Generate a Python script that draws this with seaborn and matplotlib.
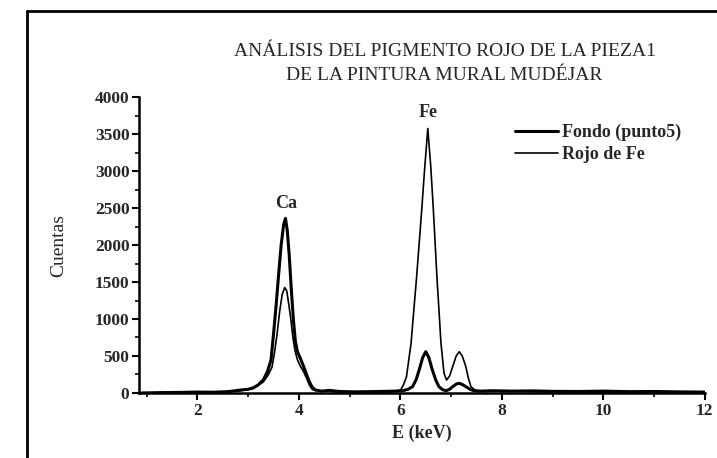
import numpy as np
import pandas as pd
import matplotlib.pyplot as plt
import seaborn as sns
from matplotlib.lines import Line2D
from matplotlib.ticker import MultipleLocator

# Spectrum (energy in keV, counts)
fondo_e = [0.9, 1.3, 1.7, 2.0, 2.3, 2.6, 2.85, 3.0, 3.10, 3.20, 3.30, 3.38, 3.45,
           3.50, 3.55, 3.60, 3.65, 3.70, 3.735, 3.77, 3.81, 3.85, 3.89, 3.93, 3.97,
           4.02, 4.08, 4.14, 4.20, 4.26, 4.32, 4.45, 4.6, 4.8, 5.1, 5.4, 5.7, 5.9,
           6.05, 6.15, 6.24, 6.31, 6.37, 6.44, 6.50, 6.56, 6.63, 6.70, 6.76, 6.83,
           6.90, 6.97, 7.03, 7.10, 7.16, 7.22, 7.29, 7.37, 7.45, 7.6, 7.8, 8.2,
           8.6, 9.0, 9.5, 10.0, 10.5, 11.0, 11.5, 12.0]
fondo_c = [0, 5, 8, 12, 10, 18, 40, 50, 70, 110, 180, 290, 446,
           800, 1180, 1600, 2000, 2280, 2360, 2200, 1850, 1400, 1000, 700, 560,
           480, 380, 270, 160, 80, 40, 25, 35, 20, 15, 18, 22, 25,
           30, 50, 85, 180, 311, 480, 558, 480, 311, 170, 85, 45,
           30, 50, 85, 120, 131, 115, 85, 50, 30, 25, 30, 25,
           28, 22, 20, 25, 18, 20, 15, 12]

rojo_e = [0.9, 1.5, 2.0, 2.5, 2.85, 3.10, 3.30, 3.40, 3.47, 3.52, 3.57, 3.62, 3.67,
          3.72, 3.76, 3.80, 3.84, 3.88, 3.92, 3.97, 4.03, 4.09, 4.15, 4.21, 4.27,
          4.4, 4.7, 5.0, 5.5, 5.8, 5.95, 6.01, 6.06, 6.12, 6.21, 6.32, 6.42,
          6.48, 6.54, 6.60, 6.65, 6.72, 6.80, 6.86, 6.91, 6.97, 7.03, 7.10, 7.16,
          7.22, 7.29, 7.34, 7.39, 7.47, 7.55, 7.7, 7.9, 8.5, 9.0, 10.0, 11.0,
          12.0]
rojo_c = [0, 5, 8, 12, 30, 60, 150, 250, 350, 550, 800, 1100, 1330,
          1425, 1380, 1200, 1000, 760, 580, 450, 360, 290, 200, 100, 45,
          30, 18, 12, 15, 20, 30, 45, 110, 220, 671, 1571, 2472,
          3050, 3576, 3050, 2472, 1571, 671, 266, 175, 230, 355, 500, 558,
          500, 355, 200, 85, 40, 20, 25, 30, 20, 15, 12, 10,
          8]

title = "ANÁLISIS DEL PIGMENTO ROJO DE LA PIEZA1\nDE LA PINTURA MURAL MUDÉJAR"
x_ticks = [2, 4, 6, 8, 10, 12]
y_ticks = [0, 500, 1000, 1500, 2000, 2500, 3000, 3500, 4000]

fondo = pd.DataFrame({"E": fondo_e, "Cuentas": fondo_c})
rojo = pd.DataFrame({"E": rojo_e, "Cuentas": rojo_c})

sns.set_theme(style="ticks")
plt.rcParams['font.family'] = ['Liberation Serif', 'DejaVu Serif']

fig = plt.figure(figsize=(7.17, 4.58), dpi=100)
ax = fig.add_axes([0.194, 0.142, 0.789, 0.646])

sns.lineplot(data=fondo, x="E", y="Cuentas", color="black", lw=2.2,
             label="Fondo (punto5)", ax=ax)
sns.lineplot(data=rojo, x="E", y="Cuentas", color="black", lw=1.2,
             label="Rojo de Fe", ax=ax)

ax.set_xlim(0.85, 12)
ax.set_ylim(0, 4000)
ax.set_xticks(x_ticks)
ax.set_yticks(y_ticks)
ax.xaxis.set_minor_locator(MultipleLocator(1))
ax.yaxis.set_minor_locator(MultipleLocator(250))
ax.tick_params(which="major", direction="out", length=5, width=1.5, color="black",
               labelsize=12.5, pad=2)
ax.tick_params(which="minor", direction="out", length=3, width=1.2, color="black")
for lab in ax.get_xticklabels() + ax.get_yticklabels():
    lab.set_fontweight("bold")
ax.yaxis.set_major_formatter(plt.FuncFormatter(lambda v, p: f"{int(v)}"))

sns.despine(ax=ax)
for s in ["left", "bottom"]:
    ax.spines[s].set_linewidth(1.8)
    ax.spines[s].set_color("black")

ax.set_xlabel("E (keV)", fontsize=13, fontweight="bold", labelpad=4)
ax.set_ylabel("Cuentas", fontsize=14, labelpad=20)
ax.set_title(title, fontsize=14, linespacing=1.55, pad=12, x=0.54)

ax.text(3.74, 2450, "Ca", ha="center", va="bottom", fontsize=13, fontweight="bold")
ax.text(6.54, 3680, "Fe", ha="center", va="bottom", fontsize=13, fontweight="bold")

leg = ax.legend(loc="upper left", bbox_to_anchor=(0.635, 0.965), frameon=False,
                handlelength=2.4, handletextpad=0.2, labelspacing=0.3,
                prop={"family": "Liberation Serif", "weight": "bold", "size": 13})

# partial frame around the figure
fig.add_artist(Line2D([0.037, 0.037], [0.0, 0.977], color="black", lw=2,
                      transform=fig.transFigure))
fig.add_artist(Line2D([0.037, 1.0], [0.977, 0.977], color="black", lw=2,
                      transform=fig.transFigure))

fig.savefig("out.png", dpi=100)
